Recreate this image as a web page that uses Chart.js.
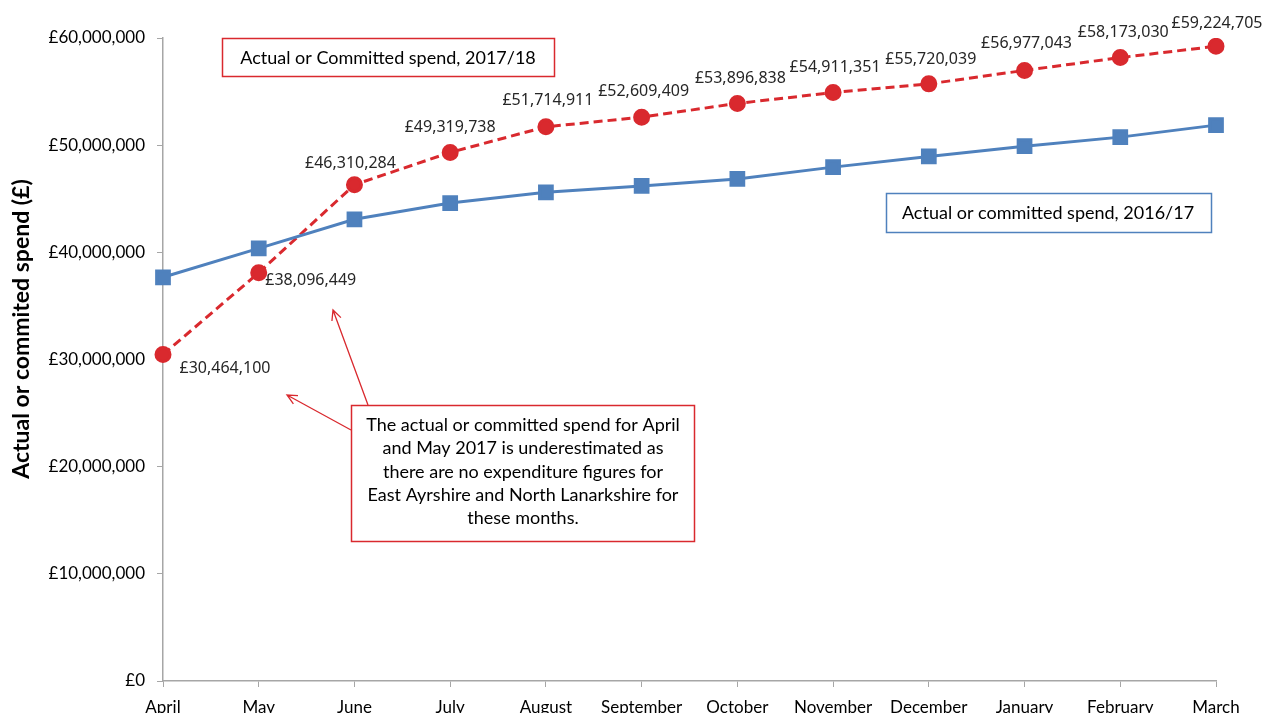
<!DOCTYPE html>
<html>
<head>
<meta charset="utf-8">
<script src="https://cdn.jsdelivr.net/npm/chart.js@4.4.1/dist/chart.umd.min.js"></script>
<style>
  html, body { margin: 0; padding: 0; background: #fff; overflow: hidden; }
  #wrap { width: 1266px; height: 713px; position: relative; }
</style>
</head>
<body>
<div id="wrap"><canvas id="spendChart" width="1266" height="713"></canvas></div>
<script>
// --- data ---
const months = ['April', 'May', 'June', 'July', 'August', 'September', 'October',
                'November', 'December', 'January', 'February', 'March'];
const spend2016 = [37670000, 40370000, 43080000, 44600000, 45600000, 46200000,
                   46850000, 47950000, 48950000, 49900000, 50750000, 51870000];
const spend2017 = [30464100, 38096449, 46310284, 49319738, 51714911, 52609409,
                   53896838, 54911351, 55720039, 56977043, 58173030, 59224705];
const yTicks = [0, 10000000, 20000000, 30000000, 40000000, 50000000, 60000000];

// label offsets for the 2017/18 values (text centre relative to point)
const labelOffsets = [[62, 14], [52, 8], [-4, -21], [0, -25], [2, -26], [2, -26],
                      [3, -25], [2, -25], [2, -24], [2, -27], [3, -25], [1, -23]];

const RED = '#d9292e';
const BLUE = '#4f81bd';
const AXIS = '#a6a6a6';
const FONT = 'Lato, "Open Sans", sans-serif';

const fmt = v => '£' + Number(v).toLocaleString('en-GB');

function arrow(ctx, x1, y1, x2, y2) {
    const a = Math.atan2(y2 - y1, x2 - x1);
    const h = 11;
    ctx.beginPath();
    ctx.moveTo(x1, y1);
    ctx.lineTo(x2, y2);
    ctx.moveTo(x2 - h * Math.cos(a - 0.45), y2 - h * Math.sin(a - 0.45));
    ctx.lineTo(x2, y2);
    ctx.lineTo(x2 - h * Math.cos(a + 0.45), y2 - h * Math.sin(a + 0.45));
    ctx.stroke();
}

const annotations = {
    id: 'annotations',
    afterDatasetsDraw(chart) {
        const ctx = chart.ctx;
        const meta = chart.getDatasetMeta(1);
        ctx.save();
        // value labels on the 2017/18 line
        ctx.font = '16px "Noto Sans", sans-serif';
        ctx.fillStyle = '#262626';
        ctx.textAlign = 'center';
        ctx.textBaseline = 'middle';
        meta.data.forEach((pt, i) => {
            const [dx, dy] = labelOffsets[i];
            ctx.fillText(fmt(spend2017[i]), pt.x + dx, pt.y + dy);
        });
        ctx.restore();
    },
    afterDraw(chart) {
        const ctx = chart.ctx;
        ctx.save();

        // y axis title
        ctx.save();
        ctx.translate(22, 329);
        ctx.rotate(-Math.PI / 2);
        ctx.font = 'bold 23px ' + FONT;
        ctx.fillStyle = '#000';
        ctx.textAlign = 'center';
        ctx.textBaseline = 'middle';
        ctx.fillText('Actual or commited spend (£)', 0, 0);
        ctx.restore();

        // arrows to April / May
        ctx.strokeStyle = RED;
        ctx.lineWidth = 1.3;
        arrow(ctx, 368, 405, 333, 310);
        arrow(ctx, 351, 430, 287, 395);

        ctx.font = '18px ' + FONT;
        ctx.textAlign = 'center';
        ctx.textBaseline = 'middle';

        // series boxes
        ctx.fillStyle = '#fff';
        ctx.fillRect(222, 38, 332, 38);
        ctx.strokeStyle = RED;
        ctx.lineWidth = 1.5;
        ctx.strokeRect(222.5, 38.5, 332, 38);
        ctx.fillStyle = '#000';
        ctx.fillText('Actual or Committed spend, 2017/18', 388, 58);

        ctx.fillStyle = '#fff';
        ctx.fillRect(886, 193, 325, 39);
        ctx.strokeStyle = BLUE;
        ctx.strokeRect(886.5, 193.5, 325, 39);
        ctx.fillStyle = '#000';
        ctx.fillText('Actual or committed spend, 2016/17', 1048, 213);

        // note box
        ctx.fillStyle = '#fff';
        ctx.fillRect(351, 405, 343, 136);
        ctx.strokeStyle = RED;
        ctx.strokeRect(351.5, 405.5, 343, 136);
        ctx.fillStyle = '#000';
        const note = ['The actual or committed spend for April',
                      'and May 2017 is underestimated as',
                      'there are no expenditure figures for',
                      'East Ayrshire and North Lanarkshire for',
                      'these months.'];
        note.forEach((line, i) => ctx.fillText(line, 523, 425 + i * 23.4));

        ctx.restore();
    }
};

new Chart(document.getElementById('spendChart'), {
    type: 'line',
    data: {
        labels: months,
        datasets: [{
            label: 'Actual or committed spend, 2016/17',
            data: spend2016,
            borderColor: BLUE,
            backgroundColor: BLUE,
            borderWidth: 3,
            pointStyle: 'rect',
            pointRadius: 9,
            pointHoverRadius: 9,
            tension: 0
        }, {
            label: 'Actual or Committed spend, 2017/18',
            data: spend2017,
            borderColor: RED,
            backgroundColor: RED,
            borderWidth: 3,
            borderDash: [9, 5],
            pointStyle: 'circle',
            pointRadius: 7,
            pointHoverRadius: 7,
            tension: 0
        }]
    },
    options: {
        responsive: false,
        animation: false,
        devicePixelRatio: 1,
        layout: { padding: { left: 0, right: 50, top: 38, bottom: 0 } },
        plugins: {
            legend: { display: false },
            tooltip: { enabled: false }
        },
        scales: {
            x: {
                offset: false,
                grid: { drawOnChartArea: false, color: AXIS, tickLength: 6, offset: false },
                border: { color: AXIS, width: 1.5 },
                ticks: { color: '#000', font: { family: FONT, size: 17 }, padding: 10, maxRotation: 0, autoSkip: false },
                afterFit(scale) { scale.height = 32; }
            },
            y: {
                min: 0,
                max: 60000000,
                afterBuildTicks(scale) { scale.ticks = yTicks.map(v => ({ value: v })); },
                grid: { drawOnChartArea: false, color: AXIS, tickLength: 6 },
                border: { color: AXIS, width: 1.5 },
                ticks: { color: '#000', font: { family: FONT, size: 17 }, padding: 12, callback: v => fmt(v) },
                afterFit(scale) { scale.width = 163; }
            }
        }
    },
    plugins: [annotations]
});
</script>
</body>
</html>
